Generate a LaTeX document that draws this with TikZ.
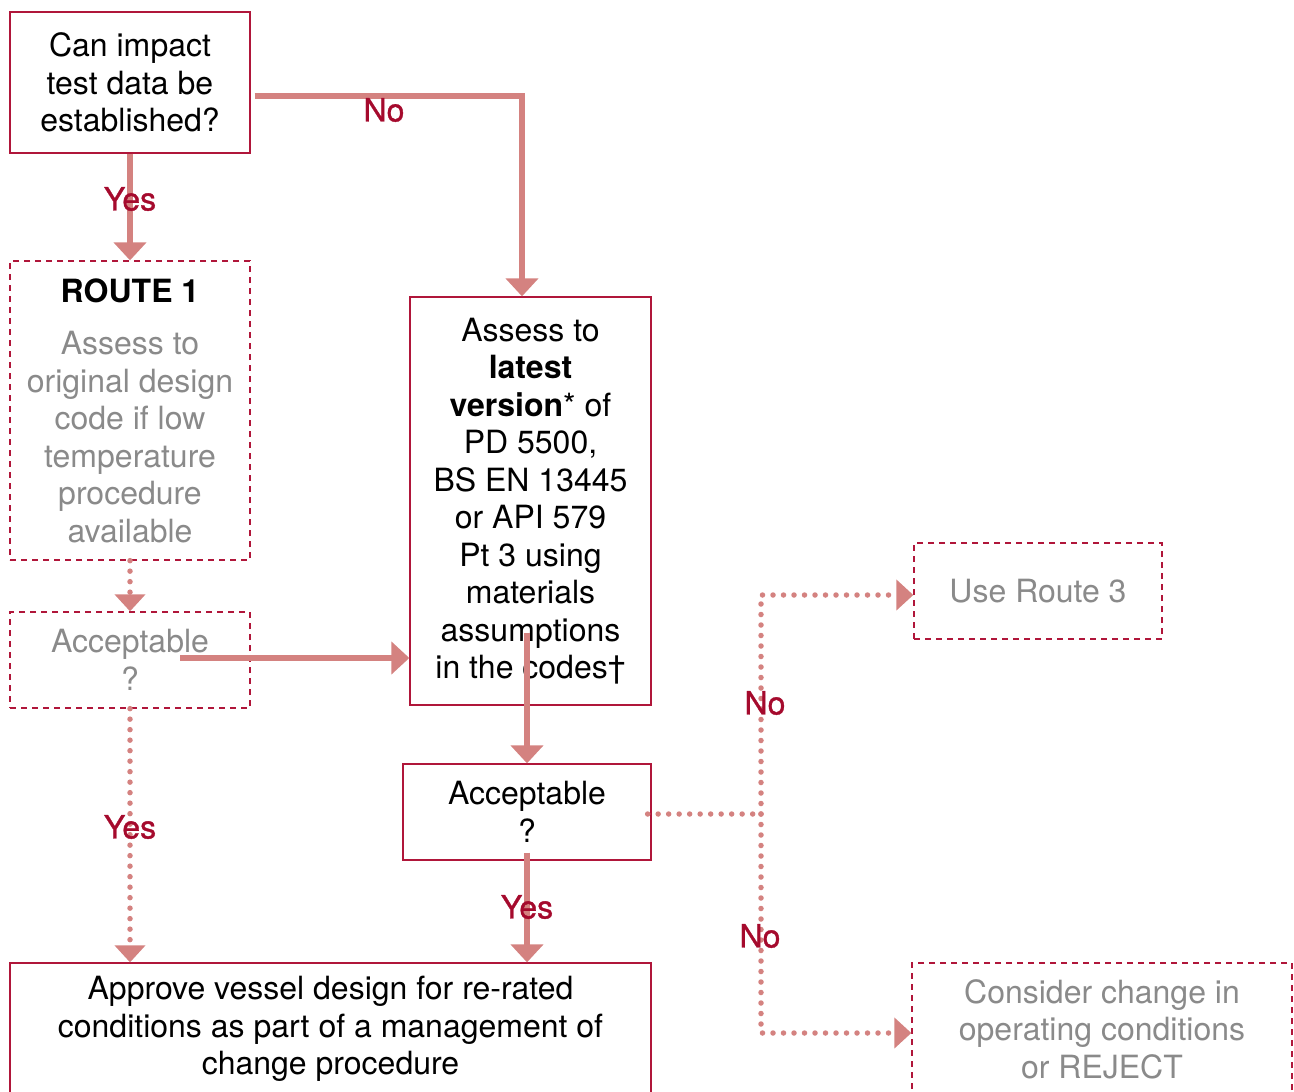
\documentclass[tikz,border=0pt]{standalone}
\usepackage{fontspec}
\setmainfont{TeX Gyre Heros}
\newfontfamily\answerfont[FakeBold=1]{TeX Gyre Heros}
\usetikzlibrary{arrows.meta,calc}
\definecolor{boxred}{RGB}{176,22,58}
\definecolor{flowred}{RGB}{212,130,128}
\definecolor{labred}{RGB}{165,10,45}
\definecolor{softgrey}{RGB}{138,138,138}
\begin{document}
\begin{tikzpicture}[x=1pt,y=-1pt,
  every node/.style={font=\fontsize{32pt}{37.5pt}\selectfont, align=center, inner sep=0pt},
  solidbox/.style={draw=boxred, line width=1.3pt},
  dashbox/.style={draw=boxred, line width=1.3pt, dash pattern=on 6pt off 5pt, text=softgrey},
  flow/.style={draw=flowred, line width=6pt, -{Triangle[width=32pt,length=18pt]}},
  dotline/.style={draw=flowred, line width=5.5pt, line cap=round, dash pattern=on 0pt off 10.5pt},
  dotflow/.style={dotline, -{Triangle[width=30pt,length=17pt]}},
  answer/.style={text=labred, font=\answerfont\fontsize{32pt}{37.5pt}\selectfont}]
  \useasboundingbox (0,0) rectangle (1294,1092);
  % boxes
  \node[solidbox, minimum width=240pt, minimum height=141pt] (impact) at (130,82.5) {Can impact\\test data be\\established?};
  \node[dashbox, minimum width=240pt, minimum height=299pt] (route1) at (130,410.5) {\textcolor{black}{\textbf{ROUTE 1}}\\[15pt]Assess to\\original design\\code if low\\temperature\\procedure\\available};
  \node[dashbox, minimum width=240pt, minimum height=96pt] (accone) at (130,660) {Acceptable\\?};
  \node[solidbox, minimum width=241pt, minimum height=408pt] (assess) at (530.5,501) {Assess to\\\textbf{latest}\\\textbf{version}* of\\PD 5500,\\BS EN 13445\\or API 579\\Pt 3 using\\materials\\assumptions\\in the codes\textdagger};
  \node[solidbox, minimum width=248pt, minimum height=96pt] (acctwo) at (527,812) {Acceptable\\?};
  \node[solidbox, minimum width=641pt, minimum height=132pt] (approve) at (330.5,1029) {Approve vessel design for re-rated\\conditions as part of a management of\\change procedure};
  \node[dashbox, minimum width=248pt, minimum height=96pt] (routethree) at (1038,591) {Use Route 3};
  \node[dashbox, minimum width=380pt, minimum height=132pt] (consider) at (1102,1029) {Consider change in\\operating conditions\\or REJECT};
  % connectors
  \draw[flow] (impact) -- (route1);
  \draw[flow] ([shift={(4pt,-13.5pt)}]impact.east) -| ([xshift=-8.5pt]assess.north);
  \draw[dotflow] (route1) -- (accone);
  \draw[flow] ([shift={(50pt,2pt)}]accone.center) -- ([yshift=2pt]accone.center -| assess.west);
  \draw[dotflow] (accone) -- (accone.south |- approve.north);
  \draw[flow] ($(assess.south -| acctwo.north)+(0,-73)$) -- (acctwo);
  \draw[flow] ($(acctwo.south)+(0,-8)$) -- (acctwo.south |- approve.north);
  \coordinate (fork) at (761,814);
  \draw[dotline] ([xshift=-4pt]acctwo.east |- fork) -- (fork);
  \draw[dotflow] (fork) |- ([yshift=-4pt]routethree.west);
  \draw[dotflow] (fork) |- ([yshift=-4pt]consider.west);
  % answers
  \node[answer] (yesa) at (130,199) {Yes};
  \node[answer] (noa) at (384,110) {No};
  \node[answer] (yesb) at (130,827) {Yes};
  \node[answer] (yesc) at (527,907) {Yes};
  \node[answer] (nob) at (765,703) {No};
  \node[answer] (noc) at (760,936) {No};
\end{tikzpicture}
\end{document}
